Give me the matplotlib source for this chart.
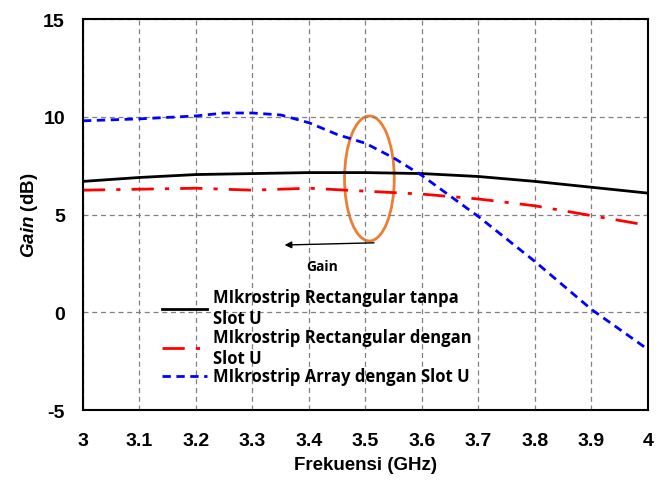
import numpy as np
import matplotlib.pyplot as plt
from matplotlib.patches import Ellipse

plt.rcParams['font.family'] = ['Liberation Sans', 'DejaVu Sans']
plt.rcParams['font.weight'] = 'bold'
plt.rcParams['axes.unicode_minus'] = False
plt.rcParams['mathtext.fontset'] = 'custom'
plt.rcParams['mathtext.bfit'] = 'Liberation Sans:italic:bold'

# frequency points (GHz)
freq = [3.0, 3.1, 3.2, 3.3, 3.4, 3.5, 3.6, 3.7, 3.8, 3.9, 4.0]
freq_arr = [3.0, 3.1, 3.2, 3.25, 3.3, 3.35, 3.4, 3.45, 3.5, 3.55, 3.6, 3.7, 3.8, 3.9, 4.0]

# gain values (dB)
gain_tanpa = [6.7, 6.9, 7.05, 7.1, 7.15, 7.15, 7.1, 6.95, 6.7, 6.4, 6.1]
gain_dengan = [6.25, 6.3, 6.35, 6.25, 6.35, 6.2, 6.05, 5.8, 5.45, 4.95, 4.45]
gain_array = [9.8, 9.9, 10.05, 10.2, 10.2, 10.1, 9.7, 9.1, 8.65, 7.9, 7.0, 4.9, 2.6, 0.15, -1.9]

labels = ['MIkrostrip Rectangular tanpa\nSlot U',
          'MIkrostrip Rectangular dengan\nSlot U',
          'MIkrostrip Array dengan Slot U']

fig = plt.figure(figsize=(6.67, 4.81), dpi=100)
ax = fig.add_axes([0.1244, 0.1455, 0.847, 0.8125])

ax.plot(freq, gain_tanpa, color='black', lw=2, label=labels[0])
ax.plot(freq, gain_dengan, color='red', lw=2, dashes=(8, 4, 1.5, 4), label=labels[1])
ax.plot(freq_arr, gain_array, color='blue', lw=2, dashes=(3, 2), label=labels[2])

ax.add_patch(Ellipse((3.507, 6.85), 0.088, 6.4, fill=False, ec='#ED7D31', lw=2))
ax.annotate('', xy=(3.352, 3.44), xytext=(3.52, 3.56),
            arrowprops=dict(arrowstyle='-|>', color='black', lw=1))
ax.text(3.423, 2.35, 'Gain', ha='center', va='center', fontsize=10,
        fontweight='bold', family='Open Sans')

ax.set_xlim(3, 4)
ax.set_ylim(-5, 15)
ax.set_xticks(np.arange(3, 4.01, 0.1))
ax.set_xticklabels(['3', '3.1', '3.2', '3.3', '3.4', '3.5', '3.6', '3.7', '3.8', '3.9', '4'])
ax.set_yticks([-5, 0, 5, 10, 15])
ax.tick_params(axis='x', length=0, labelsize=14, pad=16)
ax.tick_params(axis='y', length=0, labelsize=14, pad=13)
ax.grid(True, color='gray', ls=(0, (4, 3)), lw=0.9)
for s in ax.spines.values():
    s.set_linewidth(1.5)

ax.set_xlabel('Frekuensi (GHz)', fontsize=13.5, fontweight='bold', labelpad=5)
ax.set_ylabel(r'$\bfit{Gain}$ (dB)', fontsize=13.5, fontweight='bold', labelpad=2)

ax.legend(loc='upper left', bbox_to_anchor=(0.113, 0.35), frameon=False,
          handlelength=2.7, handletextpad=0.35, labelspacing=0.05,
          prop={'weight': 'bold', 'size': 12, 'family': 'Open Sans'})

fig.savefig('out.png', dpi=100)
